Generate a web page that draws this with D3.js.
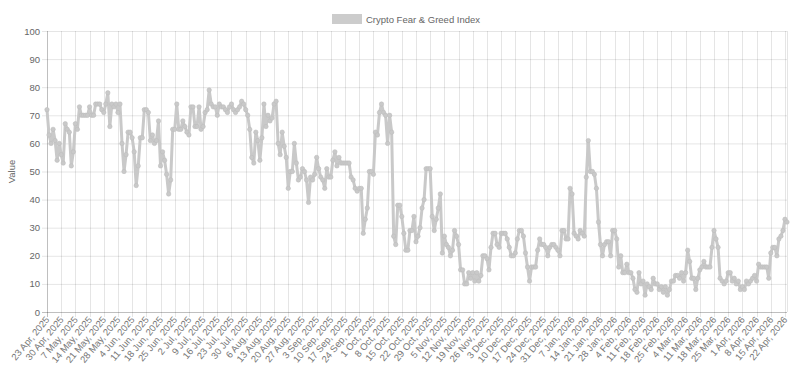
<!DOCTYPE html>
<html>
<head>
<meta charset="utf-8">
<script src="https://cdn.jsdelivr.net/npm/d3@7"></script>
<style>
  body { margin: 0; background: #fff; }
  svg text { font-family: "Helvetica Neue", Helvetica, Arial, "Liberation Sans", sans-serif; fill: #666; }
</style>
</head>
<body>
<div id="chart"></div>
<script>
const seriesName = "Crypto Fear & Greed Index";

// daily index values, 23 Apr 2025 -> 23 Apr 2026
const values = [
  72,63,60,65,61,54,60,56,53,67,65,64,52,57,67,65,73,70,70,70,
  70,73,70,70,74,74,74,72,71,74,78,66,74,73,74,71,74,60,50,56,
  64,64,62,57,45,52,62,62,72,72,71,61,63,60,61,68,52,57,54,49,
  42,47,65,65,74,65,65,68,66,64,63,73,73,66,66,73,65,66,71,72,
  79,74,73,73,70,74,73,73,72,71,73,74,72,71,72,73,75,74,72,70,
  65,55,53,64,61,54,62,74,66,70,68,69,74,75,60,56,64,59,55,44,
  50,50,60,53,47,48,51,50,47,39,48,47,49,55,51,48,47,44,51,48,
  48,54,57,52,55,53,53,53,53,53,48,47,44,43,44,44,28,33,37,50,
  50,49,64,63,71,74,71,70,60,70,64,27,24,38,38,34,28,22,22,29,
  29,34,25,27,30,37,40,51,51,51,34,29,33,37,42,21,27,24,23,20,
  22,29,27,24,15,15,10,10,14,12,14,11,14,11,13,20,20,19,15,23,
  28,28,24,23,28,28,28,26,23,20,20,21,26,29,29,27,21,16,11,16,
  16,16,22,26,24,24,23,20,23,24,24,23,22,20,29,29,26,26,44,42,
  28,27,26,29,28,27,48,61,50,50,49,44,32,24,20,24,25,25,20,29,
  29,26,16,20,14,14,17,14,14,12,8,7,14,10,11,6,10,9,8,12,
  10,10,8,9,7,9,6,8,11,11,13,13,12,14,11,14,22,18,12,12,
  8,12,15,16,18,16,16,16,23,29,26,23,12,11,10,11,14,14,11,12,
  10,11,8,9,8,11,10,11,12,13,11,17,16,16,16,16,12,21,23,23,
  20,26,27,29,33,32
];

// weekly x labels (every 7th day)
const tickLabels = [
  "23 Apr, 2025","30 Apr, 2025","7 May, 2025","14 May, 2025","21 May, 2025","28 May, 2025",
  "4 Jun, 2025","11 Jun, 2025","18 Jun, 2025","25 Jun, 2025","2 Jul, 2025","9 Jul, 2025",
  "16 Jul, 2025","23 Jul, 2025","30 Jul, 2025","6 Aug, 2025","13 Aug, 2025","20 Aug, 2025",
  "27 Aug, 2025","3 Sep, 2025","10 Sep, 2025","17 Sep, 2025","24 Sep, 2025","1 Oct, 2025",
  "8 Oct, 2025","15 Oct, 2025","22 Oct, 2025","29 Oct, 2025","5 Nov, 2025","12 Nov, 2025",
  "19 Nov, 2025","26 Nov, 2025","3 Dec, 2025","10 Dec, 2025","17 Dec, 2025","24 Dec, 2025",
  "31 Dec, 2025","7 Jan, 2026","14 Jan, 2026","21 Jan, 2026","28 Jan, 2026","4 Feb, 2026",
  "11 Feb, 2026","18 Feb, 2026","25 Feb, 2026","4 Mar, 2026","11 Mar, 2026","18 Mar, 2026",
  "25 Mar, 2026","1 Apr, 2026","8 Apr, 2026","15 Apr, 2026","22 Apr, 2026"
];
const yTicks = [0,10,20,30,40,50,60,70,80,90,100];

const W = 800, H = 368;
const margin = {top:31, right:13, bottom:56, left:47},
      width  = W - margin.left - margin.right,
      height = H - margin.top - margin.bottom;

const svg = d3.select("#chart")
  .append("svg")
    .attr("width", W)
    .attr("height", H)

const g = svg.append("g")
    .attr("transform","translate(" + margin.left + "," + margin.top + ")")

const x = d3.scaleLinear().domain([0, values.length-1]).range([0, width])
const y = d3.scaleLinear().domain([0,100]).range([height, 0])

const tickIdx = tickLabels.map((d,i)=>i*7)

// grid
g.selectAll(null)
  .data(yTicks)
  .enter()
  .append("line")
  .attr("x1",-5).attr("x2",width)
  .attr("y1",d=>y(d)+0.5).attr("y2",d=>y(d)+0.5)
  .style("stroke", d=> d==0 ? "rgba(0,0,0,0.25)" : "rgba(0,0,0,0.1)")
g.selectAll(null)
  .data(tickIdx.concat([values.length-1]))
  .enter()
  .append("line")
  .attr("x1",d=>Math.round(x(d))+0.5).attr("x2",d=>Math.round(x(d))+0.5)
  .attr("y1",0).attr("y2",d=> d==values.length-1 ? height : height+5)
  .style("stroke",(d,i)=> i==0 ? "rgba(0,0,0,0.25)" : "rgba(0,0,0,0.1)")

//y axis labels
g.append("g")
  .call(d3.axisLeft(y).tickValues(yTicks).tickSize(0).tickPadding(7))
  .call(a=>a.select(".domain").remove())
  .selectAll("text")
  .style("font-size","9.5px")
  .style("fill","#666")

g.append("text")
  .attr("transform","rotate(-90)")
  .attr("x", -height/2)
  .attr("y", -32)
  .attr("text-anchor","middle")
  .style("font-size","9.5px")
  .text("Value")

//x axis labels
g.append("g")
  .attr("transform","translate(0," + height + ")")
  .selectAll("text")
  .data(tickIdx)
  .enter()
  .append("text")
  .attr("text-anchor","end")
  .attr("transform",d=>"translate(" + (x(d)+3) + ",8) rotate(-50)")
  .style("font-size","9.5px")
  .style("fill","#777")
  .text((d,i)=>tickLabels[i])

// series
const col = "rgb(201,201,201)"
g.append("path")
  .datum(values)
  .attr("fill","none")
  .attr("stroke",col)
  .attr("stroke-width",3)
  .attr("stroke-linejoin","round")
  .attr("d",d3.line().x((d,i)=>x(i)).y(d=>y(d)))

g.selectAll("circle")
  .data(values)
  .join("circle")
  .attr("cx",(d,i)=>x(i))
  .attr("cy",d=>y(d))
  .attr("r",2.2)
  .attr("fill",col)
  .attr("stroke","rgb(190,190,190)")
  .attr("stroke-width",0.6)

// legend
const lg = svg.append("g").attr("transform","translate(332,14)")
lg.append("rect").attr("width",30).attr("height",10).attr("fill","rgb(204,204,204)")
lg.append("text").attr("x",34).attr("y",9).style("font-size","9.5px").text(seriesName)
</script>
</body>
</html>
